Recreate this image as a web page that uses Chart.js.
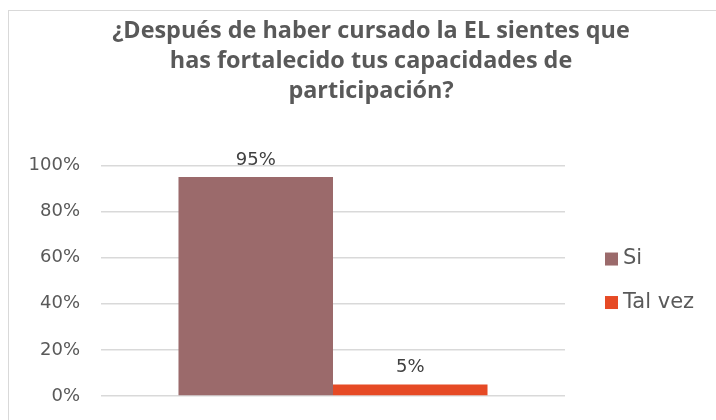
<!DOCTYPE html>
<html>
<head>
<meta charset="utf-8">
<script src="https://cdn.jsdelivr.net/npm/chart.js@4"></script>
<style>
  body { margin: 0; background: #fff; }
  #wrap { position: relative; width: 716px; height: 420px; overflow: hidden; }
  #frame { position: absolute; left: 8px; top: 10px; width: 760px; height: 460px; border: 1px solid #d9d9d9; pointer-events: none; }
</style>
</head>
<body>
<div id="wrap">
  <canvas id="chart" width="716" height="420"></canvas>
  <div id="frame"></div>
</div>
<script>
// Datos
const categories = [''];
const seriesNames = ['Si', 'Tal vez'];
const siValues = [95];
const talVezValues = [5];
const tickValues = [0, 20, 40, 60, 80, 100];

const textGray = '#595959';
const labelFont = "'DejaVu Sans', sans-serif";

// Etiquetas encima de las barras
const barLabels = {
    id: 'barLabels',
    afterDatasetsDraw(chart) {
        const ctx = chart.ctx;
        ctx.save();
        ctx.font = '18px ' + labelFont;
        ctx.fillStyle = '#404040';
        ctx.textAlign = 'center';
        ctx.textBaseline = 'bottom';
        chart.data.datasets.forEach((ds, i) => {
            chart.getDatasetMeta(i).data.forEach((bar, j) => {
                ctx.fillText(ds.data[j] + '%', bar.x, bar.y - 8);
            });
        });
        ctx.restore();
    }
};

// Leyenda a la derecha, centrada con el área del gráfico
const sideLegend = {
    id: 'sideLegend',
    afterDraw(chart) {
        const ctx = chart.ctx;
        const area = chart.chartArea;
        const mid = (area.top + area.bottom) / 2;
        const step = 43.5;
        const n = chart.data.datasets.length;
        ctx.save();
        ctx.font = '21px ' + labelFont;
        ctx.textBaseline = 'middle';
        ctx.textAlign = 'left';
        chart.data.datasets.forEach((ds, i) => {
            const y = mid + (i - (n - 1) / 2) * step;
            ctx.fillStyle = ds.backgroundColor;
            ctx.fillRect(area.right + 40, y - 6.5, 13, 13);
            ctx.fillStyle = textGray;
            ctx.fillText(ds.label, area.right + 58, y);
        });
        ctx.restore();
    }
};

const ctx = document.getElementById('chart').getContext('2d');
new Chart(ctx, {
    type: 'bar',
    data: {
        labels: categories,
        datasets: [{
            label: seriesNames[0],
            data: siValues,
            backgroundColor: '#9b6a6b'
        }, {
            label: seriesNames[1],
            data: talVezValues,
            backgroundColor: '#e64a25'
        }]
    },
    options: {
        responsive: false,
        animation: false,
        categoryPercentage: 0.666,
        barPercentage: 1.0,
        layout: {
            padding: { left: 26, right: 0, top: 0, bottom: 24 }
        },
        plugins: {
            title: {
                display: true,
                text: ['¿Después de haber cursado la EL sientes que', 'has fortalecido tus capacidades de', 'participación?'],
                color: textGray,
                font: { family: "'Open Sans', sans-serif", size: 23.4, weight: 'bold', lineHeight: 1.29 },
                padding: { top: 16, bottom: 59 }
            },
            legend: { display: false },
            tooltip: { enabled: false }
        },
        scales: {
            x: {
                display: false
            },
            y: {
                min: 0,
                max: 100,
                afterBuildTicks(axis) {
                    axis.ticks = tickValues.map(v => ({ value: v }));
                },
                afterFit(axis) { axis.width = 75; },
                grid: { color: '#d9d9d9', lineWidth: 1.5, drawTicks: true, tickLength: 21, tickColor: 'rgba(0,0,0,0)' },
                border: { display: false },
                ticks: {
                    color: textGray,
                    padding: 0,
                    font: { family: labelFont, size: 18 },
                    callback: v => v + '%'
                }
            },
            // eje vacío a la derecha: reserva el espacio de la leyenda
            legendSpace: {
                position: 'right',
                min: 0,
                max: 100,
                afterFit(axis) { axis.width = 151; },
                grid: { display: false },
                border: { display: false },
                ticks: { display: false }
            }
        }
    },
    plugins: [barLabels, sideLegend]
});
</script>
</body>
</html>
